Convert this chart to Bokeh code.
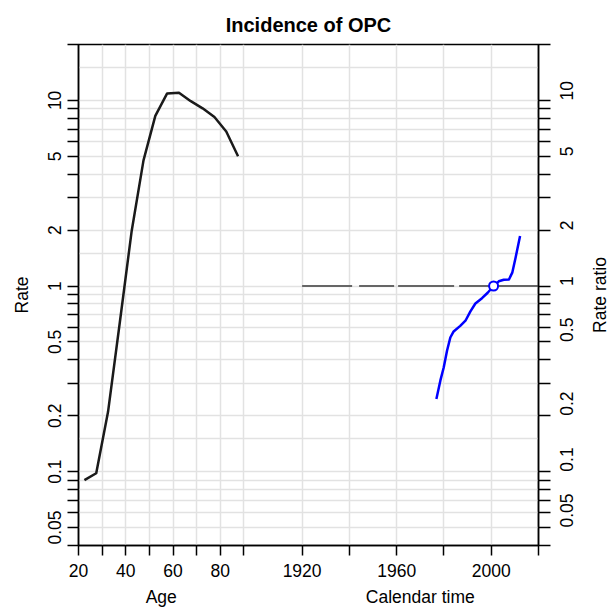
import math
from bokeh.plotting import figure
from bokeh.layouts import row
from bokeh.models import (Range1d, FixedTicker, LogAxis, LinearAxis,
                          CustomJSTickFormatter)
from bokeh.embed import file_html
from bokeh.resources import INLINE

# ---------------- data ----------------
title_text = "Incidence of OPC"

# age effect (rate per 100,000)
age_mid = [22.5, 27.5, 32.5, 37.5, 42.5, 47.5, 52.5, 57.5, 62.5, 67.5, 72.5, 77.5, 82.5, 87.5]
age_rate = [0.090, 0.098, 0.21, 0.64, 1.98, 4.75, 8.25, 10.9, 11.0, 9.9, 9.06, 8.13, 6.8, 5.0]

# period effect (rate ratio)
period_year = [1976.8, 1978.5, 1979.9, 1981.3, 1982.7, 1984.1, 1986.9, 1989.1, 1991.2,
               1993.3, 1996.1, 1998.5, 2001.0, 2003.2, 2005.3, 2007.5, 2008.9, 2010.3, 2012.2]
period_rr = [0.246, 0.31, 0.364, 0.448, 0.528, 0.569, 0.61, 0.65, 0.73,
             0.805, 0.86, 0.92, 1.0, 1.06, 1.08, 1.085, 1.18, 1.42, 1.86]
ref_year = [2001.0]
ref_rr = [1.0]
rr_line_years = [1920, 2020]
rr_line_value = [1.0, 1.0]

# axes
age_ticks = [20, 30, 40, 50, 60, 70, 80, 90]
age_labeled = [20, 40, 60, 80]
year_ticks = [1920, 1940, 1960, 1980, 2000, 2020]
year_labeled = [1920, 1960, 2000]
rate_ticks = [0.04, 0.05, 0.06, 0.07, 0.08, 0.09, 0.1, 0.2, 0.3, 0.4, 0.5, 0.6, 0.7, 0.8, 0.9,
              1, 2, 3, 4, 5, 6, 7, 8, 9, 10, 20]
rate_labeled = [0.05, 0.1, 0.2, 0.5, 1, 2, 5, 10]
rate_label_text = ["0.05", "0.1", "0.2", "0.5", "1", "2", "5", "10"]
rate_grid = [0.05, 0.06, 0.07, 0.08, 0.09, 0.1, 0.15, 0.2, 0.3, 0.4, 0.5, 0.6, 0.7, 0.8, 0.9,
             1, 1.5, 2, 3, 4, 5, 6, 7, 8, 9, 10, 15]
rate_range = [0.04, 20]
axis_titles = ["Age", "Calendar time"]
left_title = "Rate"
right_title = "Rate ratio"

# calendar time shares the horizontal scale with age, shifted by this offset
CAL_OFFSET = 1805.4

def cal(y):
    return y - CAL_OFFSET

FONT = "Liberation Sans"
FS = "17.5px"
W, H = 609, 610
TOP, BOTTOM = 44, 65
RIGHT_STRIP = 21

# ---------------- main panel ----------------
p = figure(width=W - RIGHT_STRIP, height=H,
           x_range=Range1d(age_ticks[0], cal(year_ticks[-1])),
           y_range=Range1d(*rate_range), y_axis_type="log",
           output_backend="svg", toolbar_location=None,
           min_border_left=78, min_border_right=50,
           min_border_top=TOP, min_border_bottom=BOTTOM)

p.background_fill_color = "white"
p.border_fill_color = "white"
p.outline_line_color = "black"
p.outline_line_width = 1.5

p.title.text = title_text
p.title.align = "center"
p.title.text_font = FONT
p.title.text_font_size = "20px"
p.title.text_font_style = "bold"
p.title.text_color = "black"
p.title.standoff = 18

# grids
p.xgrid.ticker = FixedTicker(ticks=age_ticks[1:] + [cal(y) for y in year_ticks[:-1]])
p.ygrid.ticker = FixedTicker(ticks=rate_grid)
for g in (p.xgrid, p.ygrid):
    g.grid_line_color = "#e2e2e2"
    g.grid_line_width = 1.5

# formatters
lab_code = """
for (let i = 0; i < vals.length; i++) {
  if (Math.abs(vals[i] - tick) < 1e-6 * Math.max(1, Math.abs(tick))) return texts[i];
}
return "";
"""
rate_fmt = CustomJSTickFormatter(args=dict(vals=rate_labeled, texts=rate_label_text), code=lab_code)
x_lab_pos = age_labeled + [cal(y) for y in year_labeled]
x_lab_txt = [str(a) for a in age_labeled] + [str(y) for y in year_labeled]
x_fmt = CustomJSTickFormatter(args=dict(vals=x_lab_pos, texts=x_lab_txt), code=lab_code)

def style_axis(ax, tick_out):
    ax.axis_line_color = "black"
    ax.axis_line_width = 1.5
    ax.major_tick_line_color = "black"
    ax.major_tick_line_width = 1.5
    ax.major_tick_out = tick_out
    ax.major_tick_in = 0
    ax.minor_tick_line_color = None
    ax.major_label_text_font = FONT
    ax.major_label_text_font_size = FS
    ax.major_label_text_color = "black"
    ax.axis_label_text_font = FONT
    ax.axis_label_text_font_size = FS
    ax.axis_label_text_font_style = "normal"
    ax.axis_label_text_color = "black"

# left axis
ly = p.yaxis[0]
ly.ticker = FixedTicker(ticks=rate_ticks)
ly.formatter = rate_fmt
style_axis(ly, 11)
ly.major_label_orientation = "vertical"
ly.major_label_standoff = 6
ly.axis_label = left_title
ly.axis_label_standoff = 14

# right axis (tick labels read upwards, like the left ones)
ry = LogAxis(ticker=FixedTicker(ticks=rate_ticks), formatter=rate_fmt)
style_axis(ry, 12)
ry.major_label_orientation = math.pi / 2
ry.major_label_standoff = 16
p.add_layout(ry, "right")

# bottom axis
bx = p.xaxis[0]
bx.ticker = FixedTicker(ticks=age_ticks + [cal(y) for y in year_ticks])
bx.formatter = x_fmt
style_axis(bx, 10)
bx.major_label_standoff = 8

# second bottom axis carrying the two axis titles
title_pos = [(age_ticks[0] + age_ticks[-1]) / 2, cal((year_ticks[0] + year_ticks[-1]) / 2)]
tx = LinearAxis(ticker=FixedTicker(ticks=title_pos),
                formatter=CustomJSTickFormatter(args=dict(vals=title_pos, texts=axis_titles), code=lab_code))
style_axis(tx, 0)
tx.axis_line_color = None
tx.major_tick_line_color = None
tx.major_label_standoff = 7
p.add_layout(tx, "below")

# reference line at RR = 1
p.line([cal(y) for y in rr_line_years], rr_line_value, line_color="#666666", line_width=2,
       line_dash="50 7 35 4 56 5 400")

# age curve
p.line(age_mid, age_rate, line_color="#1a1a1a", line_width=2.5, line_join="round")

# period curve
p.line([cal(y) for y in period_year], period_rr, line_color="#0000ff", line_width=2.5,
       line_join="round")
p.scatter([cal(y) for y in ref_year], ref_rr, size=9, marker="circle",
          line_color="#0000ff", line_width=2, fill_color="white")

# ---------------- right strip: "Rate ratio" title (reads upwards) ----------------
p2 = figure(width=RIGHT_STRIP, height=H, x_range=Range1d(0, 1), y_range=Range1d(*rate_range),
            y_axis_type="log", x_axis_location=None,
            output_backend="svg", toolbar_location=None,
            min_border_left=20, min_border_right=0, min_border_top=TOP, min_border_bottom=BOTTOM)
p2.outline_line_color = None
p2.background_fill_color = "white"
p2.border_fill_color = "white"
p2.grid.visible = False
a2 = p2.yaxis[0]
a2.ticker = FixedTicker(ticks=[])
a2.axis_line_color = None
a2.major_tick_line_color = None
a2.minor_tick_line_color = None
a2.major_label_text_font_size = "0px"
a2.axis_label = right_title
a2.axis_label_standoff = 0
a2.axis_label_text_font = FONT
a2.axis_label_text_font_size = FS
a2.axis_label_text_font_style = "normal"
a2.axis_label_text_color = "black"

layout = row(p, p2, spacing=0)
open("out.html", "w").write(file_html(layout, INLINE))
